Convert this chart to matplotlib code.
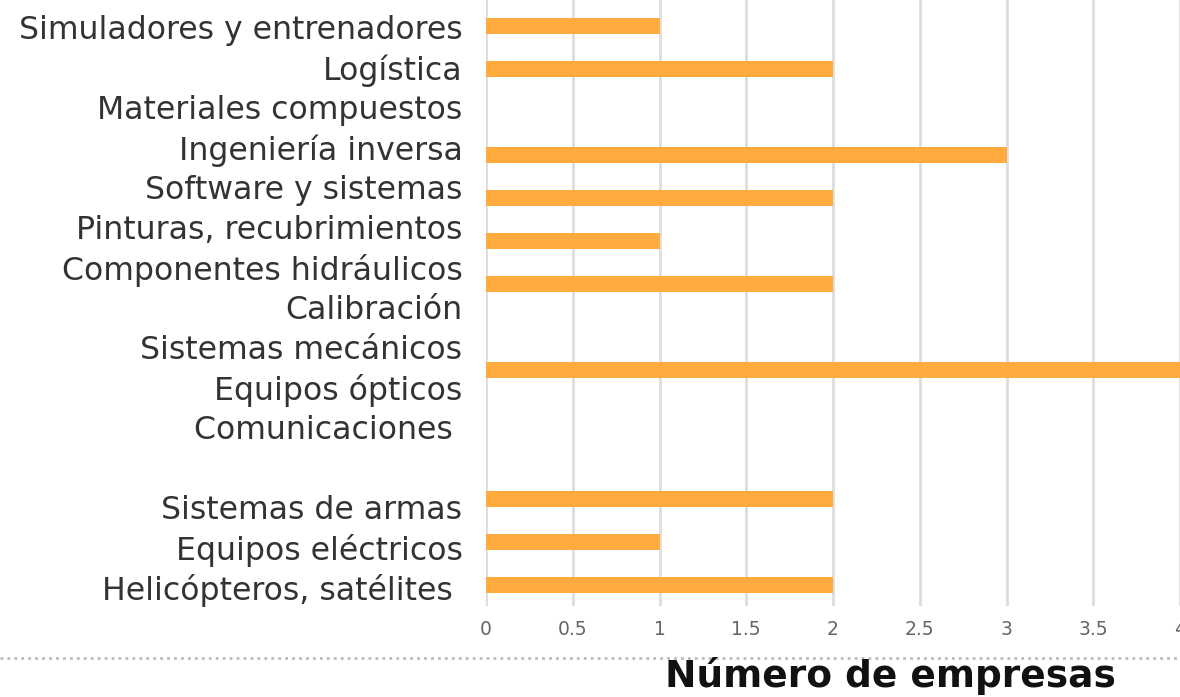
import matplotlib
matplotlib.use("Agg")
import matplotlib.pyplot as plt
from matplotlib.lines import Line2D

# bar rows (top to bottom)
bar_values = [1, 2, 0, 3, 2, 1, 2, 0, 4, 0, 0, 2, 1, 2]

# category labels (top to bottom), one empty slot
labels = ["Simuladores y entrenadores", "Logística", "Materiales compuestos",
          "Ingeniería inversa", "Software y sistemas", "Pinturas, recubrimientos",
          "Componentes hidráulicos", "Calibración", "Sistemas mecánicos",
          "Equipos ópticos", "Comunicaciones ", "", "Sistemas de armas",
          "Equipos eléctricos", "Helicópteros, satélites "]

xticks = [0, 0.5, 1, 1.5, 2, 2.5, 3, 3.5, 4]
xtick_labels = ["0", "0.5", "1", "1.5", "2", "2.5", "3", "3.5", "4"]

W, H = 1180, 697
fig = plt.figure(figsize=(W / 100, H / 100), dpi=100)
rect = [486 / W, 1 - 606 / H, 694 / W, 606 / H]

ax = fig.add_axes(rect)
ax.barh(range(len(bar_values)), bar_values, height=0.37, color="#ffab40", zorder=3)
ax.set_xlim(0, 4)
ax.set_ylim(13.49, -0.605)
ax.set_xticks(xticks)
ax.set_xticklabels(xtick_labels, fontsize=13.5, color="#666666", family="DejaVu Sans")
ax.tick_params(axis="x", length=0, pad=10)
ax.set_yticks([])
ax.grid(axis="x", color="#dddddd", linewidth=2, zorder=0)
for s in ax.spines.values():
    s.set_visible(False)

# labels overlay
ax2 = fig.add_axes(rect, facecolor="none")
ax2.set_ylim(14.48, -0.67)
ax2.set_xticks([])
ax2.set_yticks(range(len(labels)))
ax2.set_yticklabels(labels, fontsize=22.7, color="#333333", family="DejaVu Sans")
ax2.tick_params(axis="y", length=0, pad=17)
for s in ax2.spines.values():
    s.set_visible(False)

fig.add_artist(Line2D([0, 1], [1 - 658 / H, 1 - 658 / H], transform=fig.transFigure,
                      color="#bbbbbb", linewidth=2, linestyle=(0, (1, 1.5))))
fig.text(890 / W, 1 - 676 / H, "Número de empresas", ha="center", va="center",
         fontsize=27, fontweight="bold", family="DejaVu Sans", color="#111111")

fig.savefig("out.png", dpi=100)
